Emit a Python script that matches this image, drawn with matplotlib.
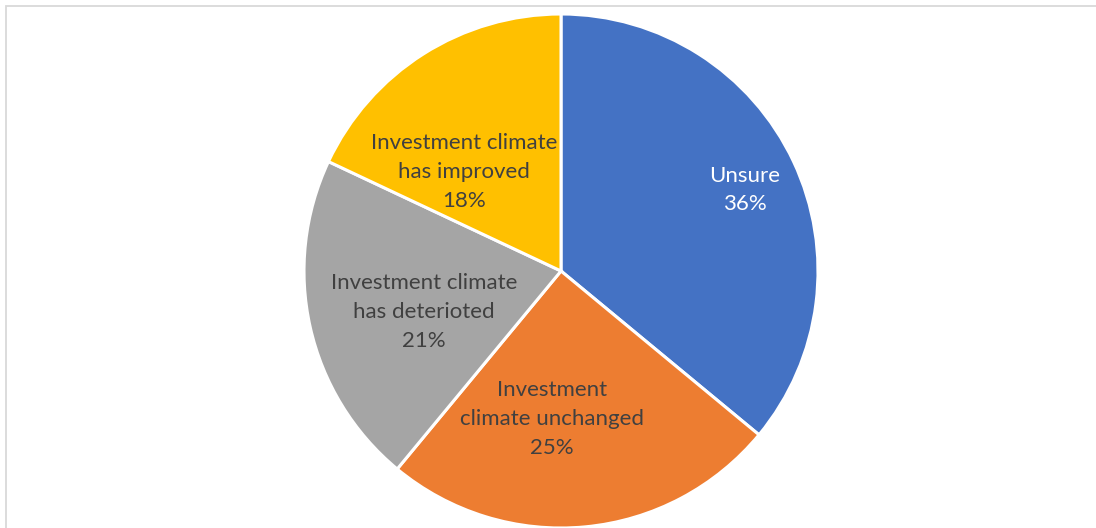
import matplotlib
matplotlib.use("Agg")
import matplotlib.pyplot as plt
from matplotlib.patches import Rectangle

plt.rcParams['font.family'] = ['Lato', 'DejaVu Sans']

categories = ["Unsure",
              "Investment\nclimate unchanged",
              "Investment climate\nhas deterioted",
              "Investment climate\nhas improved"]
shares = [36, 25, 21, 18]
colors = ["#4472C4", "#ED7D31", "#A5A5A5", "#FFC000"]
text_colors = ["white", "#404040", "#404040", "#404040"]
# label centres, in units of the pie radius
label_pos = [(0.716, 0.315), (-0.035, -0.576), (-0.533, -0.160), (-0.377, 0.385)]

W, H = 1096, 528
fig = plt.figure(figsize=(W / 100, H / 100), dpi=100)

# light frame round the chart area
fig.patches.append(Rectangle((5.5 / W, -0.5), 2.0, 1.5 - 5.5 / H,
                             transform=fig.transFigure, fill=False,
                             edgecolor="#d9d9d9", linewidth=1.3))

cx, cy, r = 561, 271, 257
ax = fig.add_axes([(cx - r) / W, (H - cy - r) / H, 2 * r / W, 2 * r / H])
ax.pie(shares, colors=colors, startangle=90, counterclock=False, radius=1,
       wedgeprops=dict(edgecolor="white", linewidth=2.2))
ax.set_xlim(-1, 1)
ax.set_ylim(-1, 1)
ax.axis("off")

for cat, val, (x, y), tc in zip(categories, shares, label_pos, text_colors):
    ax.text(x, y, f"{cat}\n{val}%", ha="center", va="center", color=tc,
            fontsize=16, linespacing=1.55)

fig.savefig("out.png", dpi=100)
